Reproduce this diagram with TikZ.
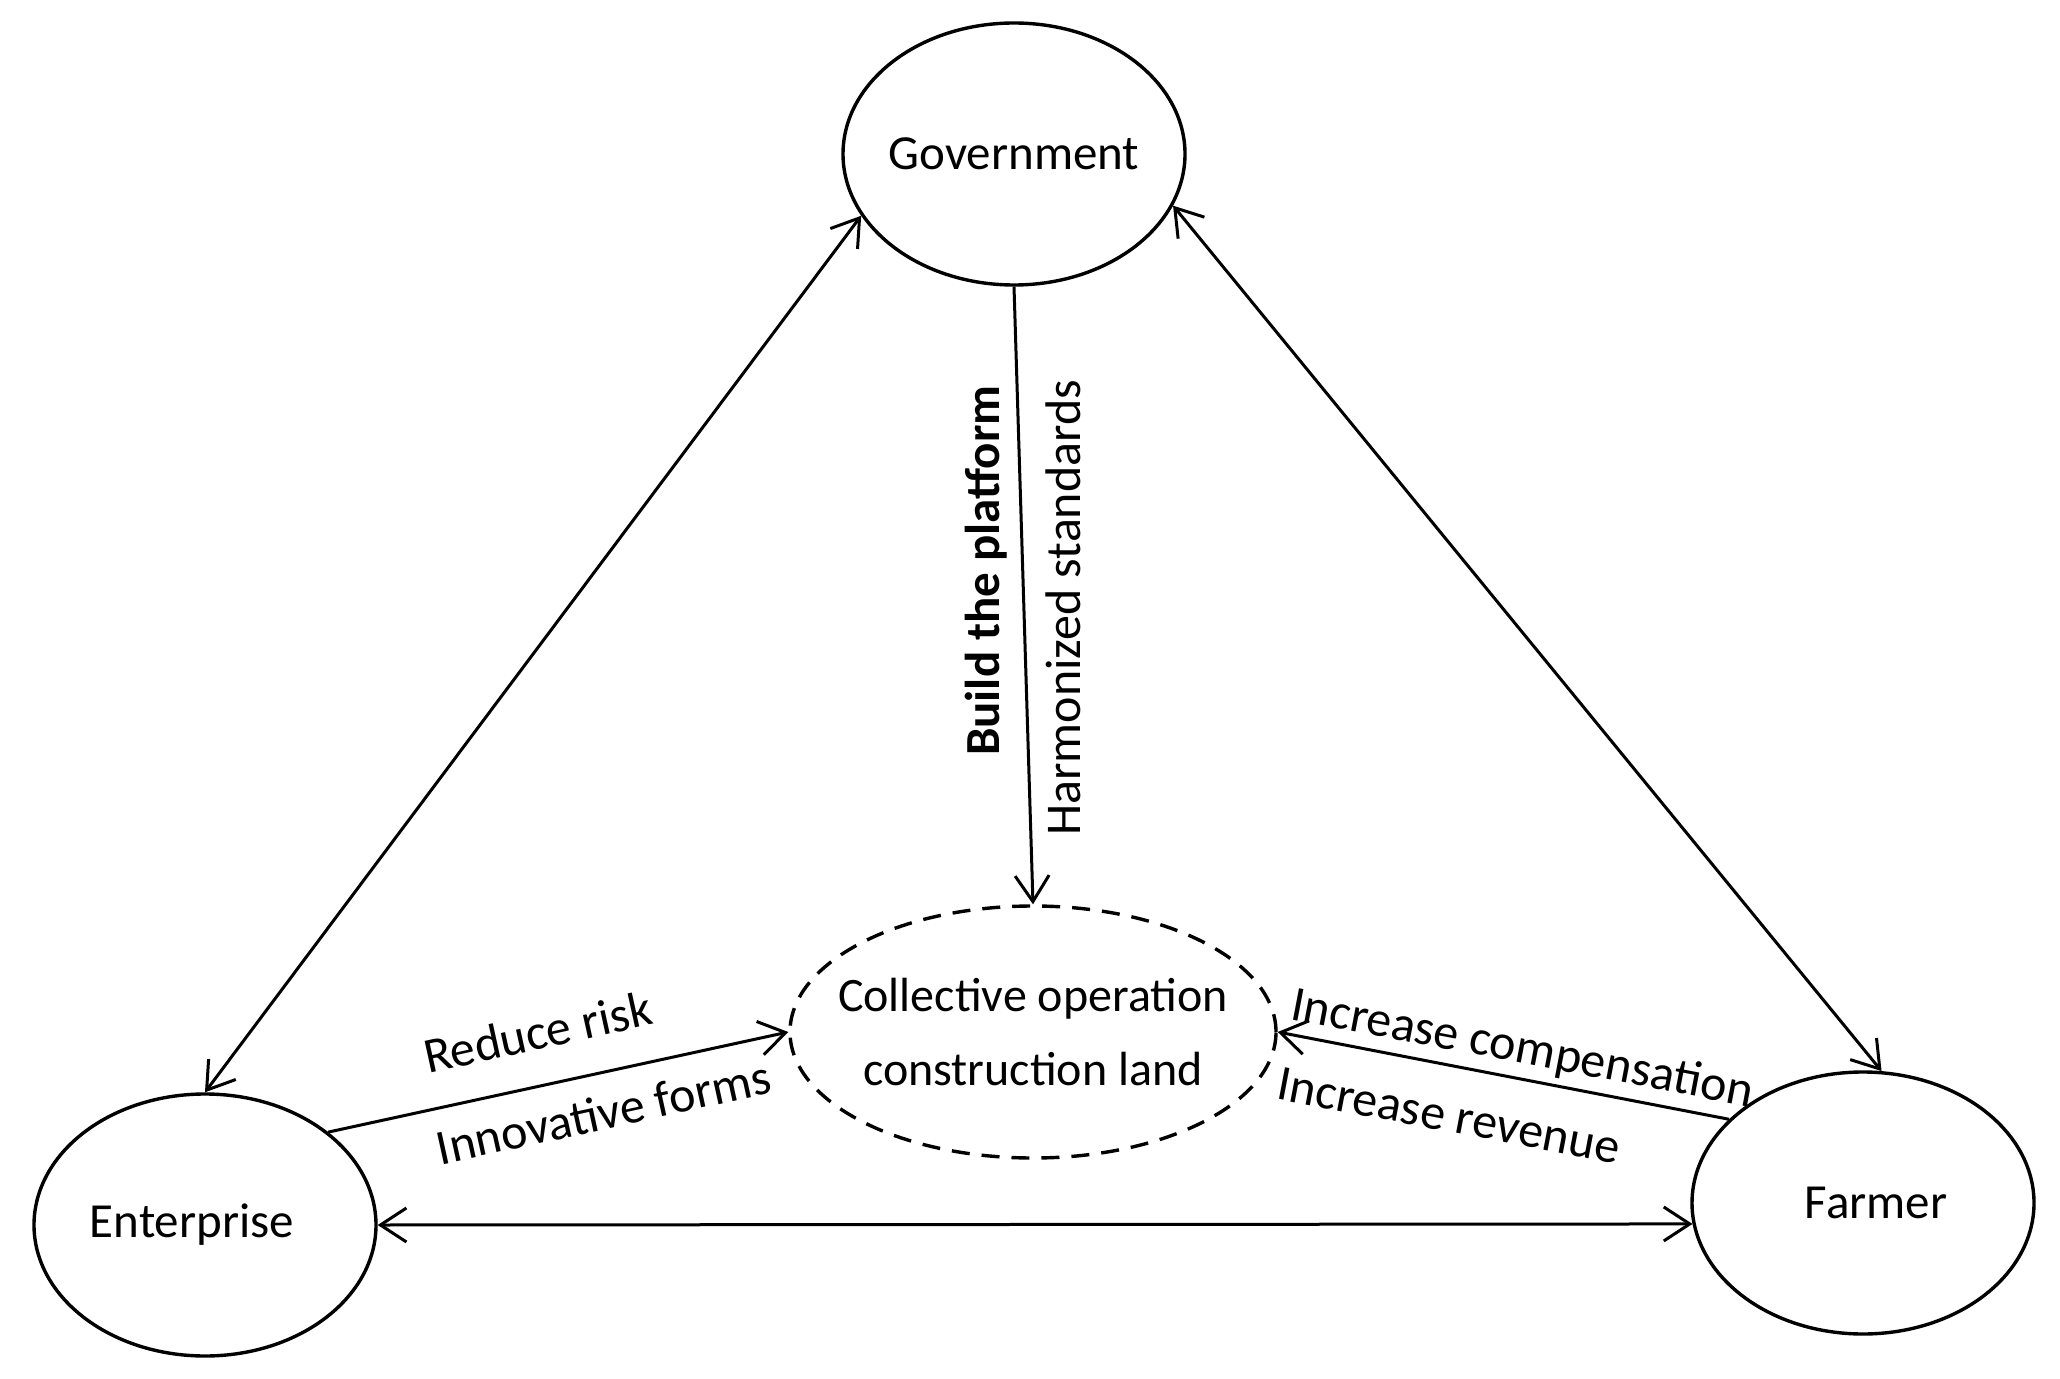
\documentclass[tikz,border=0pt]{standalone}
\usepackage{fontspec}
\setmainfont{Carlito}
\usetikzlibrary{shapes.geometric, arrows.meta}

\begin{document}
\begin{tikzpicture}[x=0.5pt,y=0.5pt,yscale=-1,xscale=1,
  actor/.style={draw, ellipse, line width=1.7pt, inner ysep=0pt, inner xsep=-12pt, minimum width=171pt, minimum height=131pt, font=\fontsize{24.5}{29}\selectfont},
  land/.style={draw, ellipse, dash pattern=on 9pt off 6pt, line width=1.7pt, inner ysep=0pt, inner xsep=-25pt, minimum width=243pt, minimum height=126pt, align=center, font=\fontsize{24}{37}\selectfont},
  link/.style={line width=1.5pt, {Straight Barb[length=13pt,width=17pt]}-{Straight Barb[length=13pt,width=17pt]}},
  flow/.style={line width=1.5pt, -{Straight Barb[length=13pt,width=17pt]}},
  tag/.style={font=\fontsize{25}{30}\selectfont}
]
\useasboundingbox (0,0) rectangle (2060,1379);

% Ellipse nodes
\node[actor] (gov) at (1014,154) {Government};
\node[actor] (ent) at (205,1225) {Enterprise\kern13pt};
\node[actor] (far) at (1863,1203) {\kern13pt Farmer};
\node[land] (land) at (1033,1032) {Collective operation\\construction land};

%Straight Lines (both ways)
\draw[link] (ent.north) -- (gov.202);
\draw[link] (gov.342) -- (far.82);
\draw[link] (ent.east) -- (far.187);

%Straight Lines into the land
\draw[flow] (gov.south) -- (land.north)
  node[pos=.46, rotate=90, anchor=south, inner sep=7pt, font=\bfseries\fontsize{24.5}{30}\selectfont] (build) {Build the platform}
  node[pos=.52, rotate=90, anchor=north, inner sep=10pt, tag] (harm) {Harmonized standards};
\draw[flow] (ent.37) -- (land.west)
  node[tag, pos=.48, rotate=12.4, anchor=south, inner sep=17pt] (risk) {Reduce risk}
  node[tag, pos=.58, rotate=12.4, anchor=north, inner sep=10pt] (forms) {Innovative forms};
\draw[flow] (far.148) -- (land.east)
  node[tag, pos=.47, rotate=-10.8, anchor=south, inner sep=3pt] (comp) {Increase compensation}
  node[tag, pos=.60, rotate=-10.8, anchor=north, inner sep=16pt] (rev) {Increase revenue};

\end{tikzpicture}
\end{document}
